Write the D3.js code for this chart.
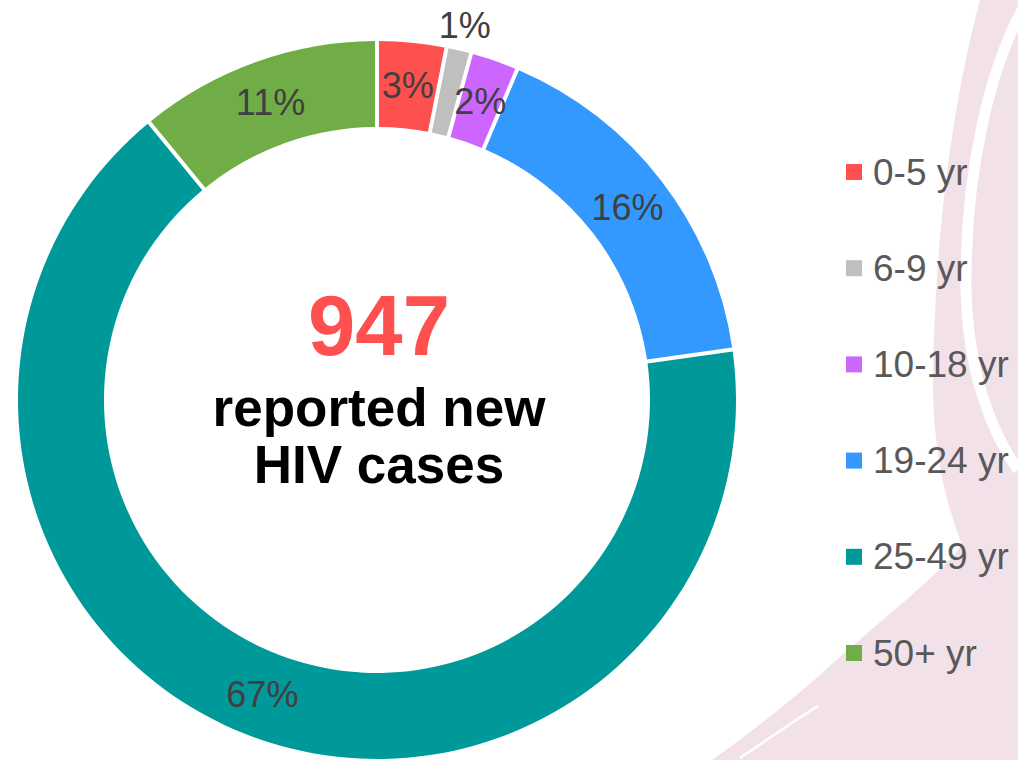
<!DOCTYPE html>
<html>
<head>
<meta charset="utf-8">
<script src="https://cdn.jsdelivr.net/npm/d3@7"></script>
<style>
  html, body { margin: 0; padding: 0; background: #ffffff; }
  svg { display: block; font-family: "Liberation Sans", Arial, sans-serif; }
</style>
</head>
<body>
<svg id="chart" width="1018" height="760"></svg>
<script>
// ---- data ----
const categories = ["0-5 yr", "6-9 yr", "10-18 yr", "19-24 yr", "25-49 yr", "50+ yr"];
const cases = [28, 9, 19, 155, 633, 103];
const colors = ["#FF5050", "#BFBFBF", "#CC66FF", "#3399FF", "#009999", "#70AD47"];
const totalLabel = "947";
const subtitleLines = ["reported new", "HIV cases"];

// ---- layout ----
const W = 1018, H = 760;
const cx = 377, cy = 400;
const outerR = 359, innerR = 273;

const svg = d3.select("#chart");

// background decoration (pink swooshes)
const deco = svg.append("g");
deco.append("path")
  .attr("d", "M 980 0 C 956 90 935 220 933 380 C 933 450 945 500 962 545 C 940 575 880 620 820 675 C 780 710 740 740 712 760 L 1018 760 L 1018 0 Z")
  .attr("fill", "#F2E1E8");
deco.append("path")
  .attr("d", "M 1022 10 C 990 70 965 170 966 290 C 968 370 990 430 1018 470")
  .attr("fill", "none").attr("stroke", "#ffffff").attr("stroke-width", 11);
deco.append("path")
  .attr("d", "M 740 758 C 770 738 795 720 818 706")
  .attr("fill", "none").attr("stroke", "#ffffff").attr("stroke-width", 2.5);

// ---- donut ----
const data = categories.map((c, i) => ({ cat: c, value: cases[i], color: colors[i] }));
const total = d3.sum(cases);

const pie = d3.pie().value(d => d.value).sort(null).padAngle(4 / outerR);
const arcs = pie(data);
const arc = d3.arc().innerRadius(innerR).outerRadius(outerR).padRadius(outerR);
const labelArc = d3.arc().innerRadius((innerR + outerR) / 2).outerRadius((innerR + outerR) / 2);
const outLabelArc = d3.arc().innerRadius(385).outerRadius(385);

const g = svg.append("g").attr("transform", `translate(${cx},${cy})`);
g.selectAll("path.slice").data(arcs).join("path")
  .attr("class", "slice")
  .attr("d", arc)
  .attr("fill", d => d.data.color);

const pct = v => Math.round(v / total * 100) + "%";
g.selectAll("text.pct").data(arcs).join("text")
  .attr("class", "pct")
  .attr("transform", d => {
    const p = (d.data.value / total < 0.015) ? outLabelArc.centroid(d) : labelArc.centroid(d);
    return `translate(${p[0]},${p[1]})`;
  })
  .attr("text-anchor", "middle")
  .attr("dominant-baseline", "central")
  .attr("font-size", 36)
  .attr("fill", "#404040")
  .text(d => pct(d.data.value));

// center text
g.append("text")
  .attr("x", 2).attr("y", -45)
  .attr("text-anchor", "middle")
  .attr("font-size", 85).attr("font-weight", "bold")
  .attr("fill", "#FF5050")
  .text(totalLabel);
g.selectAll("text.sub").data(subtitleLines).join("text")
  .attr("class", "sub")
  .attr("x", 2)
  .attr("y", (d, i) => 26 + i * 57)
  .attr("text-anchor", "middle")
  .attr("font-size", 53).attr("font-weight", "bold")
  .attr("fill", "#000000")
  .text(d => d);

// ---- legend ----
const ly = d3.scalePoint().domain(categories).range([172, 653]);
const lg = svg.append("g");
const items = lg.selectAll("g.item").data(data).join("g")
  .attr("class", "item")
  .attr("transform", d => `translate(846,${ly(d.cat)})`);
items.append("rect")
  .attr("x", 0).attr("y", -8).attr("width", 16).attr("height", 16)
  .attr("fill", d => d.color);
items.append("text")
  .attr("x", 27).attr("y", 0)
  .attr("dominant-baseline", "central")
  .attr("font-size", 37)
  .attr("fill", "#595959")
  .text(d => d.cat);
</script>
</body>
</html>
